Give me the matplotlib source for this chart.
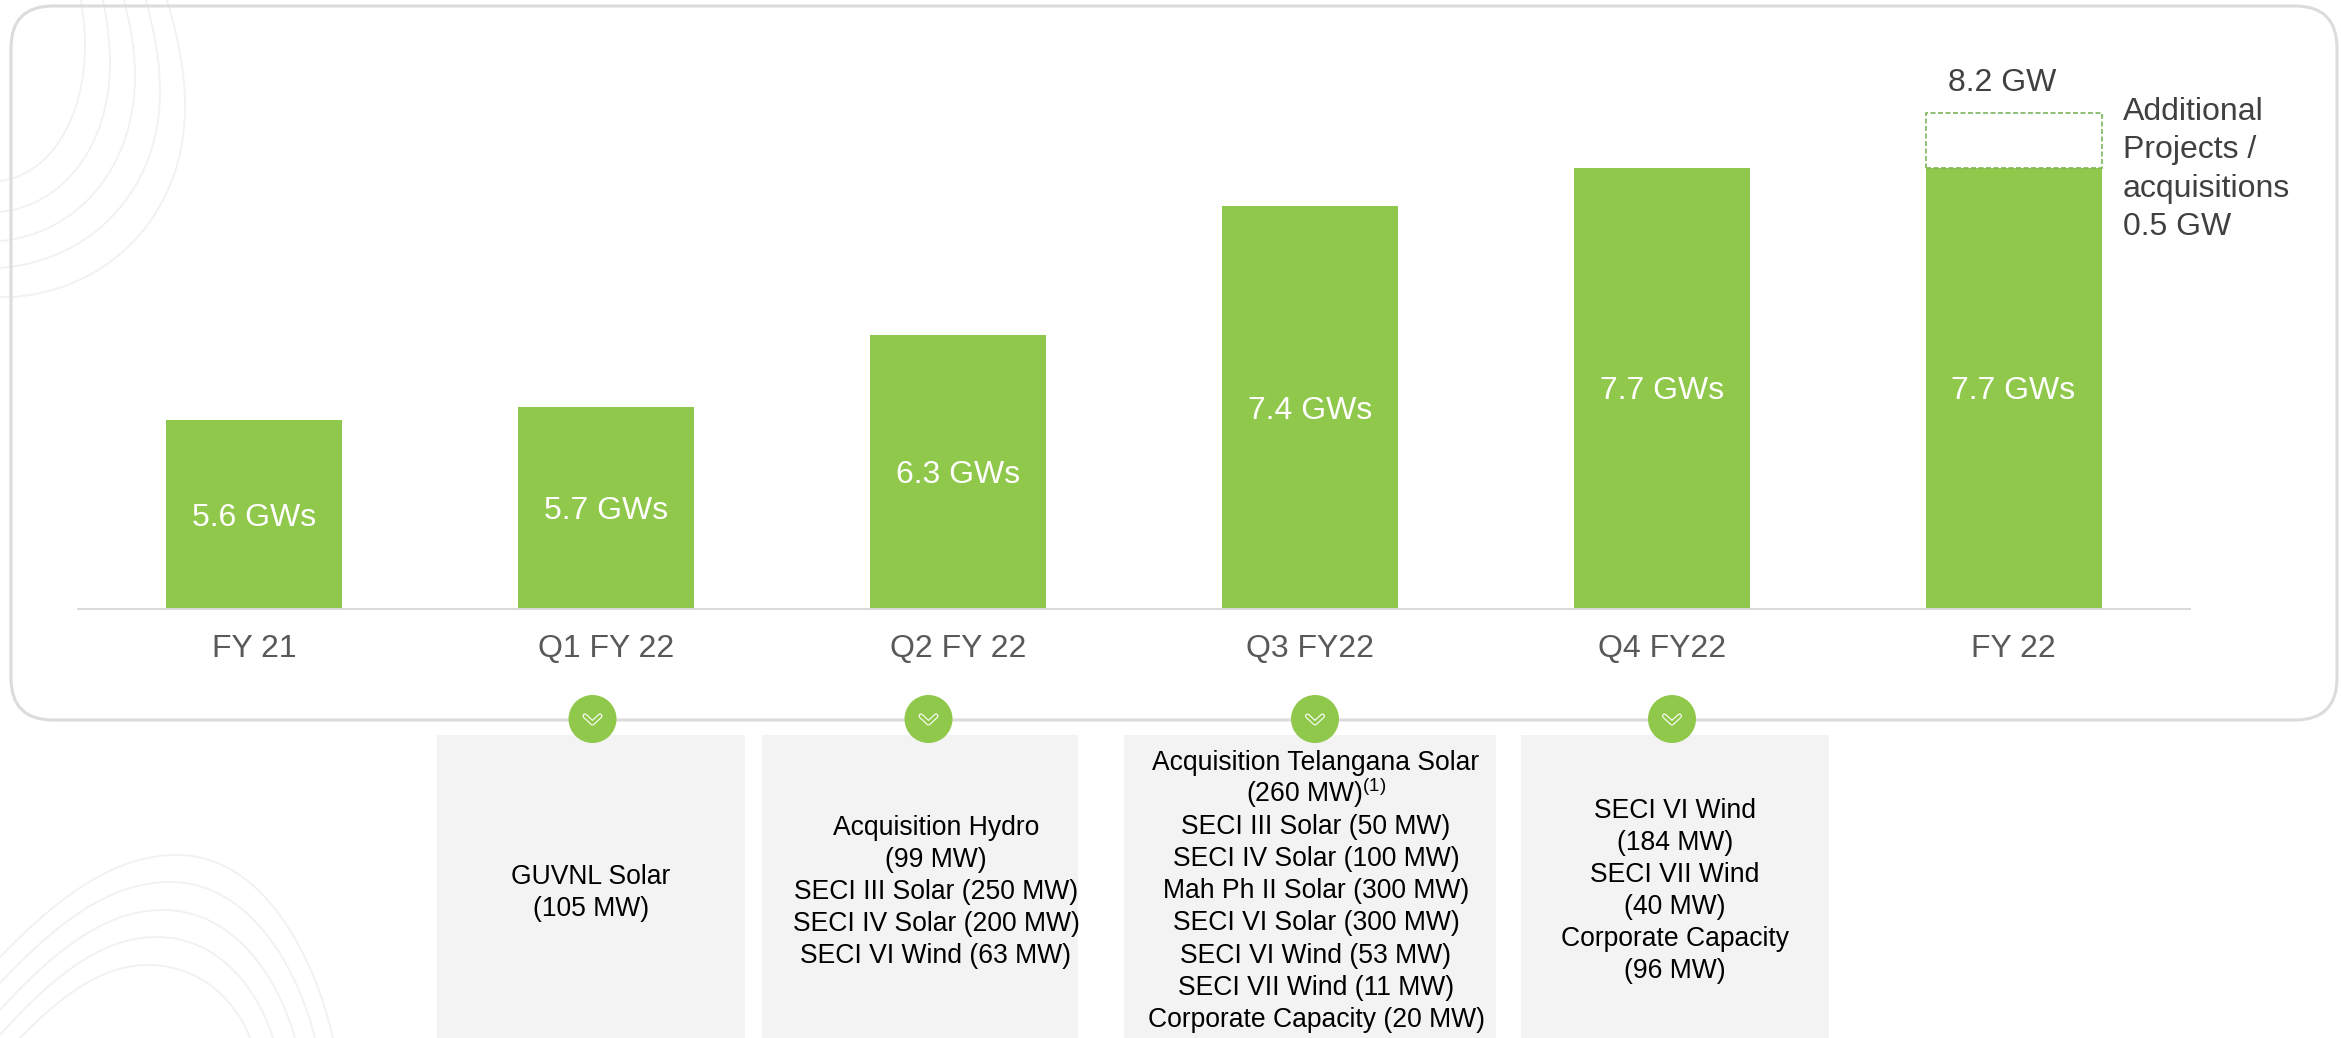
import matplotlib
matplotlib.use("Agg")
import matplotlib.pyplot as plt
from matplotlib.patches import FancyBboxPatch, PathPatch, Rectangle, Circle
from matplotlib.path import Path

plt.rcParams['font.family'] = ['Liberation Sans', 'DejaVu Sans']
plt.rcParams['mathtext.default'] = 'regular'

# chart data
periods = ["FY 21", "Q1 FY 22", "Q2 FY 22", "Q3 FY22", "Q4 FY22", "FY 22"]
capacity_gw = [5.6, 5.71, 6.31, 7.38, 7.7, 7.7]
bar_labels = ["5.6 GWs", "5.7 GWs", "6.3 GWs", "7.4 GWs", "7.7 GWs", "7.7 GWs"]
additional_gw = 0.46
axis_floor = 4.03

# text boxes under the chart
box_1 = ["GUVNL Solar", "(105 MW)"]
box_2 = ["Acquisition Hydro", "(99 MW)", "SECI III Solar (250 MW)",
         "SECI IV Solar (200 MW)", "SECI VI Wind (63 MW)"]
box_3 = ["Acquisition Telangana Solar", "(260 MW)$^{(1)}$", "SECI III Solar (50 MW)",
         "SECI IV Solar (100 MW)", "Mah Ph II Solar (300 MW)", "SECI VI Solar (300 MW)",
         "SECI VI Wind (53 MW)", "SECI VII Wind (11 MW)", "Corporate Capacity (20 MW)"]
box_4 = ["SECI VI Wind", "(184 MW)", "SECI VII Wind", "(40 MW)",
         "Corporate Capacity", "(96 MW)"]

W, H = 2341, 1038
GREEN = "#90c84b"
LINE = "#dcdcdc"
DECOR = "#f1f1f1"

fig = plt.figure(figsize=(W / 100, H / 100), dpi=100)

# background layer in pixel coordinates
bg = fig.add_axes([0, 0, 1, 1])
bg.set_xlim(0, W)
bg.set_ylim(H, 0)
bg.axis("off")

# corner decoration, top left
top_curves = [(81, 85, 45, 0, 181), (103, 110, 63, 0, 212), (124, 135, 76, 0, 241),
              (146, 160, 92, 0, 268), (167, 185, 107, 13, 297)]
for x0, xm, ym, xe, ye in top_curves:
    verts = [(x0, 0), (x0 + (xm - x0) * 0.6, ym * 0.35), (xm, ym * 0.65), (xm, ym),
             (xm, ym + (ye - ym) * 0.55), (xe + (xm - xe) * 0.58, ye - (ye - ym) * 0.03 - 2), (xe, ye)]
    codes = [Path.MOVETO] + [Path.CURVE4] * 6
    if xe > 0:
        verts.append((0, ye))
        codes.append(Path.LINETO)
    bg.add_patch(PathPatch(Path(verts, codes), fill=False, ec=DECOR, lw=1.3))

# corner decoration, bottom left
bottom_curves = [(0, 957, 177, 855, 333, 1038), (0, 983, 170, 882, 315, 1038),
                 (0, 1010, 163, 910, 295, 1038), (0, 1035, 157, 937, 273, 1038),
                 (20, 1038, 148, 965, 250, 1038)]
for xl, yl, xa, ya, xr, yr in bottom_curves:
    verts = [(xl, yl), (xl + (xa - xl) * 0.4, yl - (yl - ya) * 0.72), (xa - (xa - xl) * 0.3, ya), (xa, ya),
             (xa + (xr - xa) * 0.55, ya), (xr - (xr - xa) * 0.12, yr - (yr - ya) * 0.45), (xr, yr)]
    codes = [Path.MOVETO] + [Path.CURVE4] * 6
    bg.add_patch(PathPatch(Path(verts, codes), fill=False, ec=DECOR, lw=1.3))

# rounded panel
bg.add_patch(FancyBboxPatch((11 + 42, 6 + 42), 2326 - 84, 714 - 84,
                            boxstyle="round,pad=42,rounding_size=42",
                            fc="none", ec=LINE, lw=2.2))

# grey boxes and their text
box_left = [437, 762, 1124, 1521]
box_right = [745, 1078, 1496, 1829]
box_texts = [box_1, box_2, box_3, box_4]
text_x = [591, 936, 1316, 1675]
first_base = [884, 835, 770, 818]
for left, right, lines, tx, base in zip(box_left, box_right, box_texts, text_x, first_base):
    bg.add_patch(Rectangle((left, 735), right - left, H - 735, fc="#f3f3f3", ec="none"))
    for i, line in enumerate(lines):
        bg.text(tx, base + i * 32.1, line, ha="center", va="baseline", fontsize=19.1, color="#000000")

# circles with chevrons
circle_x = [592.5, 928.5, 1315, 1672]
for cx in circle_x:
    bg.add_patch(Circle((cx, 719), 24, fc=GREEN, ec="none", zorder=5))
    xs = [cx - 7.5, cx, cx + 7.5]
    ys = [716, 723, 716]
    bg.plot(xs, ys, color="white", lw=3.6, solid_capstyle="round", solid_joinstyle="round", zorder=6)
    bg.plot(xs, ys, color=GREEN, lw=2.0, solid_capstyle="round", solid_joinstyle="round", zorder=7)

# bar chart
ax = fig.add_axes([78 / W, (H - 609) / H, 2111.5 / W, 609 / H])
ax.patch.set_alpha(0)
x = list(range(len(periods)))
heights = [v - axis_floor for v in capacity_gw]
ax.bar(x, heights, width=0.5, bottom=axis_floor, color=GREEN, zorder=2)
ax.bar(x[-1], additional_gw, width=0.5, bottom=capacity_gw[-1], facecolor="white",
       edgecolor="#7ab55c", linestyle=(0, (3, 1.5)), linewidth=1.2, zorder=3)

for xi, v, label in zip(x, capacity_gw, bar_labels):
    ax.text(xi, (v + axis_floor) / 2 - 0.025, label, ha="center", va="center", color="white", fontsize=23)

ax.set_xlim(-0.5, 5.5)
ax.set_ylim(axis_floor, axis_floor + 609 / 120.2)
ax.set_xticks(x)
ax.set_xticklabels(periods, fontsize=23, color="#595959")
ax.tick_params(axis="x", length=0, pad=18)
ax.set_yticks([])
for side in ["top", "left", "right"]:
    ax.spines[side].set_visible(False)
ax.spines["bottom"].set_color("#d9d9d9")
ax.spines["bottom"].set_linewidth(1.4)

# labels around the last bar
bg.text(2002, 91, "8.2 GW", ha="center", va="baseline", fontsize=23, color="#404040")
note_lines = ["Additional", "Projects /", "acquisitions", "0.5 GW"]
for i, line in enumerate(note_lines):
    bg.text(2123, 120 + i * 38.3, line, ha="left", va="baseline", fontsize=23, color="#404040")

plt.savefig("out.png", dpi=100)
